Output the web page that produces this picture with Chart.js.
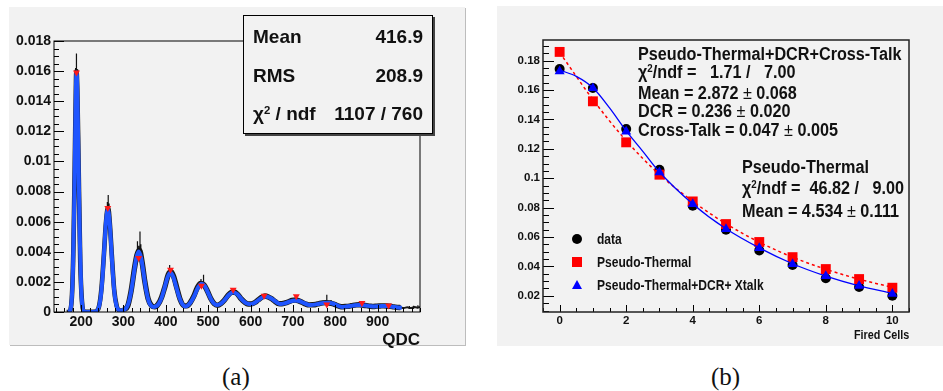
<!DOCTYPE html>
<html>
<head>
<meta charset="utf-8">
<script src="https://cdn.jsdelivr.net/npm/chart.js@4.4.0/dist/chart.umd.min.js"></script>
<style>
  body { margin: 0; background: #fff; width: 943px; height: 391px; position: relative; overflow: hidden;
         font-family: "Liberation Sans", Arial, sans-serif; color: #111; }
  .panel { position: absolute; background: #f2f2f2; }
  #panelA { left: 9px; top: 7px; width: 456px; height: 338px; box-shadow: 1px 1px 0 #bdbdbd; }
  #panelB { left: 497px; top: 6px; width: 446px; height: 340px; }
  .panel canvas { position: absolute; left: 0; top: 0; }
  .t { position: absolute; font-weight: bold; white-space: pre; line-height: 20px; }
  .stats { position: absolute; left: 243px; top: 15px; width: 188px; height: 117px; background: #f2f2f2;
           border: 1px solid #000; box-shadow: 2px 2px 0 #444; }
  .stats .t { font-size: 19px; }
  sup { font-size: 0.6em; vertical-align: 0; position: relative; top: -0.55em; }
  .pm { font-weight: normal; }
  .block { position: absolute; font-weight: bold; white-space: pre; font-size: 18px;
           transform: scaleX(0.9); transform-origin: left top; }
  .leg { position: absolute; font-weight: bold; white-space: pre; font-size: 14px; line-height: 16px;
         transform: scaleX(0.86); transform-origin: left top; }
  .mk { position: absolute; }
  .cap { position: absolute; font-family: "Liberation Serif", "Times New Roman", serif; font-size: 25px; line-height: 28px; }
</style>
</head>
<body>
<div class="panel" id="panelA"><canvas id="qdcChart" width="456" height="338"></canvas></div>
<div class="panel" id="panelB"><canvas id="cellsChart" width="446" height="340"></canvas></div>

<div class="stats">
  <div class="t" style="left:9px;top:11px;">Mean</div>
  <div class="t" style="right:9px;top:11px;">416.9</div>
  <div class="t" style="left:9px;top:50px;">RMS</div>
  <div class="t" style="right:9px;top:50px;">208.9</div>
  <div class="t" style="left:9px;top:88px;">χ<sup>2</sup> / ndf</div>
  <div class="t" style="right:9px;top:88px;">1107 / 760</div>
</div>
<div class="t" style="right:523px;top:330px;font-size:17px;">QDC</div>

<div class="block" style="left:638px;top:44.7px;line-height:18.5px;">Pseudo-Thermal+DCR+Cross-Talk
χ<sup>2</sup>/ndf =   1.71 /   7.00
Mean = 2.872 <span class="pm">±</span> 0.068
DCR = 0.236 <span class="pm">±</span> 0.020
Cross-Talk = 0.047 <span class="pm">±</span> 0.005</div>
<div class="block" style="left:742px;top:156.5px;line-height:21px;">Pseudo-Thermal
χ<sup>2</sup>/ndf =  46.82 /   9.00
Mean = 4.534 <span class="pm">±</span> 0.111</div>

<div class="mk" style="left:572px;top:234px;width:10px;height:10px;border-radius:50%;background:#000;"></div>
<div class="mk" style="left:572px;top:257px;width:10px;height:10px;background:#ff0000;"></div>
<div class="mk" style="left:571.5px;top:280px;width:0;height:0;border-left:5.5px solid transparent;border-right:5.5px solid transparent;border-bottom:9.5px solid #0000ff;"></div>
<div class="leg" style="left:597px;top:231px;">data</div>
<div class="leg" style="left:597px;top:254px;">Pseudo-Thermal</div>
<div class="leg" style="left:597px;top:277px;">Pseudo-Thermal+DCR+ Xtalk</div>
<div class="t" style="left:854px;top:325px;font-size:12px;transform:scaleX(0.9);transform-origin:left top;">Fired Cells</div>

<div class="cap" style="left:222px;top:363px;">(a)</div>
<div class="cap" style="left:711px;top:363px;">(b)</div>

<script>
// ---- panel (a): QDC spectrum ----
const qdcTicks = [200, 300, 400, 500, 600, 700, 800, 900];
const qdcYTicks = [0, 0.002, 0.004, 0.006, 0.008, 0.01, 0.012, 0.014, 0.016, 0.018];

// fit curve (blue)
const fitQ = [170, 174, 178, 181, 184, 186, 188, 189, 190, 192, 194, 197, 200, 203, 207, 215, 225, 232,
  235, 239, 243, 247, 251, 255, 259, 263, 267, 271, 275, 279, 283, 287, 291, 296,
  301, 306, 312, 318, 324, 330, 336, 342, 348, 354, 360, 366, 371,
  377, 383, 390, 397, 404, 411, 418, 425, 432, 439, 446,
  452, 460, 468, 476, 484, 492, 500, 508, 515, 522,
  530, 539, 549, 559, 569, 579, 589, 600,
  610, 620, 628, 636, 644, 654, 663, 671,
  680, 690, 700, 707, 715, 725, 734, 742,
  752, 762, 772, 782, 792, 802, 810, 817,
  826, 836, 846, 856, 866, 876, 885, 891,
  900, 910, 918, 924, 932, 940, 948, 957];
const fitVal = [0, 0.0001, 0.0009, 0.0031, 0.0076, 0.0117, 0.0152, 0.0159, 0.0157, 0.0133, 0.0098, 0.0048, 0.0016, 0.0004, 0.00003, 0, 0, 0.00002,
  0.00004, 0.00014, 0.00044, 0.00117, 0.00252, 0.00437, 0.00609, 0.0068, 0.00609, 0.00437, 0.00252, 0.00118, 0.00047, 0.00018, 0.0001, 0.0001,
  0.00015, 0.00024, 0.0006, 0.00135, 0.00245, 0.00355, 0.00402, 0.00355, 0.00247, 0.00138, 0.00068, 0.0004, 0.00033,
  0.00038, 0.00054, 0.00094, 0.0016, 0.0023, 0.00263, 0.0023, 0.00162, 0.00095, 0.00052, 0.00037,
  0.00043, 0.0007, 0.00112, 0.00163, 0.00188, 0.00172, 0.00125, 0.00078, 0.00053, 0.00046,
  0.00055, 0.0008, 0.00115, 0.00132, 0.00118, 0.00084, 0.0006, 0.00052,
  0.00062, 0.00082, 0.00098, 0.00103, 0.00097, 0.0008, 0.00062, 0.00053,
  0.00057, 0.00067, 0.00075, 0.00077, 0.00073, 0.00061, 0.0005, 0.00046,
  0.00049, 0.00055, 0.0006, 0.00061, 0.00058, 0.00048, 0.00038, 0.00034,
  0.00036, 0.0004, 0.00045, 0.00047, 0.00045, 0.00041, 0.00038, 0.00037,
  0.00038, 0.0004, 0.0004, 0.0004, 0.00037, 0.00033, 0.0003, 0.00028];

// measured histogram (black)
const histQ = [166, 172, 178, 182, 185, 188, 189, 191, 194, 198, 202, 206, 212, 220, 228, 236, 242, 248, 254, 258, 262, 264, 268, 272, 278, 284, 290,
  296, 302, 310, 318, 326, 332, 338, 344, 350, 358, 366, 374, 382, 390, 398, 406, 412, 418, 426, 434, 442, 450, 458, 466, 474, 482, 490, 498,
  506, 514, 522, 530, 538, 546, 554, 562, 570, 578, 586, 594, 602, 610, 618, 626, 634, 642, 650, 658, 666, 674, 682, 690, 698, 706, 714, 722,
  730, 738, 746, 754, 762, 770, 778, 786, 794, 802, 810, 818, 826, 834, 842, 850, 858, 866, 874, 882, 890, 898, 906, 914, 922, 930, 938, 946,
  954, 962, 970, 978, 986, 994, 1000];
const histVal = [0, 0.00003, 0.0009, 0.0045, 0.0098, 0.0155, 0.016, 0.0148, 0.0099, 0.0033, 0.0007, 0.00006, 0.00002, 0.00001, 0.00001, 0.00006, 0.00034, 0.00155, 0.0039, 0.0057, 0.0068, 0.0069, 0.0058, 0.004, 0.0015, 0.0004, 0.00011,
  0.0001, 0.00017, 0.0004, 0.0014, 0.0029, 0.0038, 0.0041, 0.0033, 0.0021, 0.0009, 0.00042, 0.00034, 0.00052, 0.00098, 0.0017, 0.0025, 0.0027, 0.0024, 0.0016, 0.00082, 0.00042, 0.00041, 0.00064, 0.00105, 0.0016, 0.0019, 0.0018, 0.0014,
  0.0009, 0.00056, 0.00045, 0.00056, 0.00078, 0.00108, 0.0013, 0.00133, 0.00116, 0.00087, 0.00066, 0.00053, 0.00054, 0.00063, 0.0008, 0.00097, 0.00106, 0.001, 0.00088, 0.0007, 0.00056, 0.00055, 0.0006, 0.00068, 0.00077, 0.0008, 0.00074, 0.00064,
  0.00053, 0.00047, 0.00048, 0.0005, 0.00056, 0.00061, 0.00062, 0.0006, 0.00055, 0.00046, 0.00038, 0.00035, 0.00037, 0.00039, 0.00044, 0.00047, 0.00048, 0.00045, 0.00042, 0.00039, 0.00037, 0.00039, 0.0004, 0.00041, 0.0004, 0.00038, 0.00034, 0.00031,
  0.00029, 0.00027, 0.00031, 0.00026, 0.00033, 0.00029, 0.00034];

// bin fluctuations sticking out of the fit
const spikeQ = [187, 189, 262, 264, 266, 333, 336, 339, 341, 409, 413, 483, 489, 557, 637, 700, 780, 790, 868, 975, 985, 995];
const spikeLow = [0.015, 0.0157, 0.0066, 0.0068, 0.0062, 0.0039, 0.004, 0.0039, 0.0035, 0.0026, 0.0025, 0.0018, 0.0017, 0.0012, 0.0009, 0.0007, 0.0006, 0.0005, 0.0004, 0.0002, 0.0002, 0.00025];
const spikeHigh = [0.0162, 0.01717, 0.0073, 0.00777, 0.0072, 0.0047, 0.0044, 0.00534, 0.0045, 0.00313, 0.0029, 0.0022, 0.00247, 0.0016, 0.0012, 0.0009, 0.00115, 0.0008, 0.0006, 0.0004, 0.00042, 0.00045];

// peaks found (red markers)
const peakQ = [189, 263, 336, 411, 484, 559, 632, 708, 780, 863, 926];
const peakVal = [0.0159, 0.0069, 0.00358, 0.0028, 0.00174, 0.00148, 0.00108, 0.00104, 0.0005, 0.0006, 0.00044];

// ---- panel (b): fired cells ----
const cellTicks = [0, 2, 4, 6, 8, 10];
const cellYTicks = [0.02, 0.04, 0.06, 0.08, 0.1, 0.12, 0.14, 0.16, 0.18];
const firedCells = [0, 1, 2, 3, 4, 5, 6, 7, 8, 9, 10];
const dataProb = [0.1743, 0.1614, 0.1335, 0.1058, 0.0813, 0.065, 0.0509, 0.041, 0.032, 0.026, 0.02];
const thermalProb = [0.1859, 0.1523, 0.1244, 0.1024, 0.0842, 0.0688, 0.0566, 0.0463, 0.0382, 0.0314, 0.0255];
const xtalkProb = [0.1727, 0.1612, 0.1317, 0.104, 0.0824, 0.0654, 0.0525, 0.0416, 0.0334, 0.0268, 0.0214];
const xtalkFitCells = [0, 0.5, 1, 1.5, 2, 2.5, 3, 4, 5, 6, 7, 8, 9, 10];
const xtalkFit = [0.1735, 0.1693, 0.1615, 0.1478, 0.1322, 0.1183, 0.1042, 0.0825, 0.0656, 0.0526, 0.0418, 0.0334, 0.0268, 0.0217];
const thermalFit = [0.1855, 0.1535, 0.1255, 0.1025, 0.0843, 0.069, 0.0565, 0.0463, 0.0381, 0.0313, 0.0258];

const pts = (xs, ys) => xs.map((x, i) => ({ x: x, y: ys[i] }));

function spikePoints() {
  const out = [];
  spikeQ.forEach((q, i) => {
    out.push({ x: q, y: spikeLow[i] }, { x: q, y: spikeHigh[i] }, { x: q, y: null });
  });
  return out;
}

function range(from, to, step) {
  const out = [];
  for (let v = from; v <= to + step / 1000; v += step) out.push(+v.toFixed(6));
  return out;
}

// ROOT style ticks pointing into the frame, plus the frame itself
const insideTicks = {
  id: 'insideTicks',
  afterDatasetsDraw(chart, args, o) {
    const { ctx, chartArea: a, scales } = chart;
    ctx.save();
    ctx.strokeStyle = '#000';
    ctx.lineWidth = 1;
    ctx.beginPath();
    const xt = (list, len) => list.forEach(v => {
      const p = Math.round(scales.x.getPixelForValue(v)) + 0.5;
      ctx.moveTo(p, a.bottom); ctx.lineTo(p, a.bottom - len);
    });
    const yt = (list, len) => list.forEach(v => {
      const p = Math.round(scales.y.getPixelForValue(v)) + 0.5;
      ctx.moveTo(a.left, p); ctx.lineTo(a.left + len, p);
    });
    xt(o.xMinor, o.xMinorLen); xt(o.xMajor, o.xMajorLen);
    yt(o.yMinor, o.yMinorLen); yt(o.yMajor, o.yMajorLen);
    ctx.stroke();
    ctx.lineWidth = o.frameWidth;
    ctx.strokeStyle = o.frameColor;
    ctx.strokeRect(a.left, a.top, a.right - a.left, a.bottom - a.top);
    ctx.restore();
  }
};

const tickFont = size => ({ family: 'Liberation Sans', weight: 'bold', size: size });
const fmt = v => String(+(+v).toFixed(4));

// outline of the histogram: thin where the fit is steep, wider along the noisy tail
const histWidth = c => {
  const q = c.p0.parsed.x;
  if (q >= 954) return 2;
  return q < 300 ? 4.6 : 5.4;
};

new Chart(document.getElementById('qdcChart'), {
  type: 'line',
  data: {
    datasets: [
      { data: pts(histQ, histVal), borderColor: '#1a1a1a', borderWidth: 5, pointRadius: 0,
        cubicInterpolationMode: 'monotone', order: 4, segment: { borderWidth: histWidth } },
      { data: spikePoints(), borderColor: '#111', borderWidth: 1.2, pointRadius: 0, spanGaps: false, order: 3 },
      { data: pts(fitQ, fitVal), borderColor: '#1f55ff', borderWidth: 4, pointRadius: 0,
        cubicInterpolationMode: 'monotone', order: 2 },
      { data: pts(peakQ, peakVal), showLine: false, pointStyle: 'triangle', rotation: 180, pointRadius: 4,
        backgroundColor: '#ff1a1a', borderWidth: 0, order: 1 }
    ]
  },
  options: {
    responsive: false, animation: false, devicePixelRatio: 1,
    layout: { padding: { left: 0, right: 45, top: 34, bottom: 0 } },
    plugins: {
      legend: { display: false }, tooltip: { enabled: false },
      insideTicks: {
        xMajor: qdcTicks, xMinor: range(140, 1000, 20), xMajorLen: 7, xMinorLen: 4,
        yMajor: qdcYTicks, yMinor: range(0, 0.018, 0.0005), yMajorLen: 10, yMinorLen: 5,
        frameWidth: 1, frameColor: '#000'
      }
    },
    scales: {
      x: {
        type: 'linear', min: 136, max: 1000,
        grid: { display: false, drawTicks: false }, border: { display: false },
        afterBuildTicks: s => { s.ticks = qdcTicks.map(v => ({ value: v })); },
        afterFit: s => { s.height = 33; },
        ticks: { font: tickFont(14), color: '#111', padding: 2, maxRotation: 0, callback: v => String(v) }
      },
      y: {
        min: 0, max: 0.018,
        grid: { display: false, drawTicks: false }, border: { display: false },
        afterBuildTicks: s => { s.ticks = qdcYTicks.map(v => ({ value: v })); },
        afterFit: s => { s.width = 45; },
        ticks: { font: tickFont(14), color: '#111', padding: 3, callback: fmt }
      }
    }
  },
  plugins: [insideTicks]
});

new Chart(document.getElementById('cellsChart'), {
  type: 'line',
  data: {
    datasets: [
      { data: pts(firedCells, dataProb), showLine: false, pointStyle: 'circle', pointRadius: 5,
        backgroundColor: '#000', borderWidth: 0, order: 5 },
      { data: pts(firedCells, thermalProb), showLine: false, pointStyle: 'rect', pointRadius: 7,
        backgroundColor: '#ff0000', borderWidth: 0, order: 4 },
      { data: pts(firedCells, thermalFit), borderColor: '#ff0000', borderWidth: 1.5, borderDash: [3, 3],
        pointRadius: 0, cubicInterpolationMode: 'monotone', order: 3 },
      { data: pts(firedCells, xtalkProb), showLine: false, pointStyle: 'triangle', pointRadius: 5.8,
        backgroundColor: '#0000ff', borderWidth: 0, order: 2 },
      { data: pts(xtalkFitCells, xtalkFit), borderColor: '#0000ff', borderWidth: 1.3,
        pointRadius: 0, cubicInterpolationMode: 'monotone', order: 1 }
    ]
  },
  options: {
    responsive: false, animation: false, devicePixelRatio: 1,
    layout: { padding: { left: 0, right: 34, top: 34, bottom: 0 } },
    plugins: {
      legend: { display: false }, tooltip: { enabled: false },
      insideTicks: {
        xMajor: cellTicks, xMinor: range(-0.5, 10.5, 0.5), xMajorLen: 7, xMinorLen: 4,
        yMajor: cellYTicks, yMinor: range(0.01, 0.19, 0.005), yMajorLen: 11, yMinorLen: 6,
        frameWidth: 1.5, frameColor: '#222'
      }
    },
    scales: {
      x: {
        type: 'linear', min: -0.5, max: 10.5,
        grid: { display: false, drawTicks: false }, border: { display: false },
        afterBuildTicks: s => { s.ticks = cellTicks.map(v => ({ value: v })); },
        afterFit: s => { s.height = 34; },
        ticks: { font: tickFont(11.5), color: '#111', padding: 2, maxRotation: 0, callback: v => String(v) }
      },
      y: {
        min: 0.009, max: 0.194,
        grid: { display: false, drawTicks: false }, border: { display: false },
        afterBuildTicks: s => { s.ticks = cellYTicks.map(v => ({ value: v })); },
        afterFit: s => { s.width = 46; },
        ticks: { font: tickFont(11.5), color: '#111', padding: 3, callback: fmt }
      }
    }
  },
  plugins: [insideTicks]
});
</script>
</body>
</html>
